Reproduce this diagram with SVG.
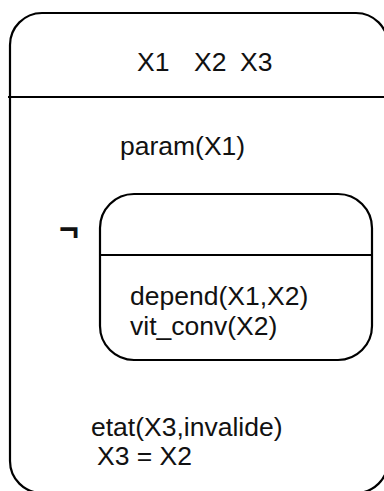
<svg xmlns="http://www.w3.org/2000/svg" width="384" height="491" viewBox="0 0 384 491">
<style>
.box{fill:none;stroke:#000;stroke-width:2.2}
.line{stroke:#000;stroke-width:2.2}
.t{font-family:"Liberation Sans",Arial,sans-serif;font-size:26.5px;fill:#111}
</style>
<rect width="384" height="491" fill="#fff"/>
<g id="outer-state">
<rect class="box" x="10" y="13" width="378" height="480" rx="32" ry="32"/>
<line class="line" x1="8" y1="97" x2="384" y2="97"/>
<text class="t" x="137" y="71">X1</text>
<text class="t" x="194" y="71">X2</text>
<text class="t" x="240" y="71">X3</text>
<text class="t" x="120" y="155">param(X1)</text>
<text class="t" x="91" y="436">etat(X3,invalide)</text>
<text class="t" x="97" y="465">X3 = X2</text>
</g>
<g id="neg">
<text class="t" x="59" y="240" style="font-weight:bold;font-size:34px">¬</text>
</g>
<g id="inner-state">
<rect class="box" x="100" y="194" width="272" height="166" rx="34" ry="34"/>
<line class="line" x1="99" y1="255" x2="372" y2="255"/>
<text class="t" x="130" y="305">depend(X1,X2)</text>
<text class="t" x="130" y="335">vit_conv(X2)</text>
</g>
<g id="connectors"></g>
</svg>
